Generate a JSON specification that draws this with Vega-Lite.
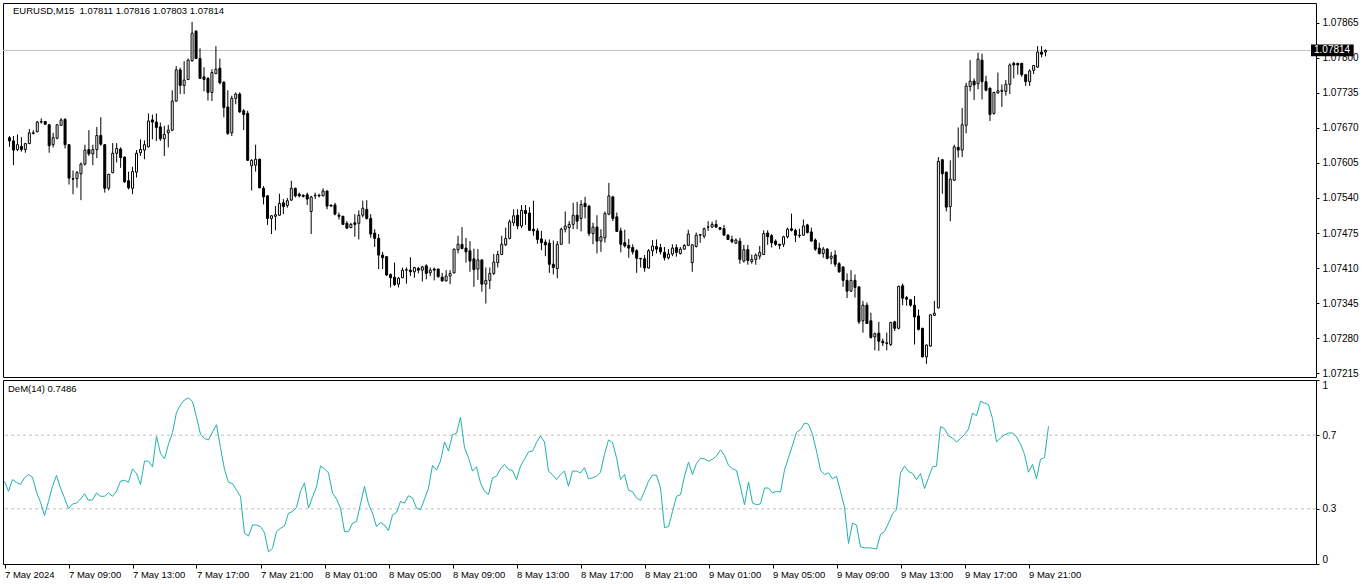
{
"$schema":"https://vega.github.io/schema/vega-lite/v6.json",
"background":"white",
"padding":{"left":2,"top":2,"right":0,"bottom":0},
"spacing":0,
"config":{"font":"Liberation Sans","view":{"stroke":"black","strokeWidth":1},"axis":{"labelFont":"Liberation Sans","labelFontSize":9.5,"labelColor":"black","tickColor":"black","domain":false,"grid":false,"title":null,"labelOverlap":false}},
"resolve":{"scale":{"y":"independent"}},
"datasets":{"bars":[
{"t":"2024-05-07 05:00","o":1.07652,"h":1.07655,"l":1.07635,"c":1.07646,"d":0.450},
{"t":"2024-05-07 05:15","o":1.07646,"h":1.07655,"l":1.07601,"c":1.07629,"d":0.395},
{"t":"2024-05-07 05:30","o":1.07630,"h":1.07658,"l":1.07627,"c":1.07639,"d":0.459},
{"t":"2024-05-07 05:45","o":1.07636,"h":1.07653,"l":1.07626,"c":1.07630,"d":0.444},
{"t":"2024-05-07 06:00","o":1.07630,"h":1.07642,"l":1.07624,"c":1.07641,"d":0.432},
{"t":"2024-05-07 06:15","o":1.07641,"h":1.07668,"l":1.07640,"c":1.07661,"d":0.468},
{"t":"2024-05-07 06:30","o":1.07661,"h":1.07666,"l":1.07658,"c":1.07660,"d":0.486},
{"t":"2024-05-07 06:45","o":1.07663,"h":1.07683,"l":1.07662,"c":1.07681,"d":0.472},
{"t":"2024-05-07 07:00","o":1.07681,"h":1.07688,"l":1.07678,"c":1.07682,"d":0.390},
{"t":"2024-05-07 07:15","o":1.07682,"h":1.07682,"l":1.07676,"c":1.07677,"d":0.335},
{"t":"2024-05-07 07:30","o":1.07676,"h":1.07677,"l":1.07624,"c":1.07637,"d":0.264},
{"t":"2024-05-07 07:45","o":1.07639,"h":1.07661,"l":1.07634,"c":1.07652,"d":0.340},
{"t":"2024-05-07 08:00","o":1.07651,"h":1.07677,"l":1.07649,"c":1.07676,"d":0.422},
{"t":"2024-05-07 08:15","o":1.07675,"h":1.07688,"l":1.07674,"c":1.07685,"d":0.481},
{"t":"2024-05-07 08:30","o":1.07686,"h":1.07688,"l":1.07632,"c":1.07639,"d":0.413},
{"t":"2024-05-07 08:45","o":1.07639,"h":1.07640,"l":1.07565,"c":1.07577,"d":0.359},
{"t":"2024-05-07 09:00","o":1.07576,"h":1.07591,"l":1.07547,"c":1.07575,"d":0.300},
{"t":"2024-05-07 09:15","o":1.07576,"h":1.07590,"l":1.07559,"c":1.07587,"d":0.326},
{"t":"2024-05-07 09:30","o":1.07585,"h":1.07606,"l":1.07536,"c":1.07603,"d":0.331},
{"t":"2024-05-07 09:45","o":1.07603,"h":1.07639,"l":1.07600,"c":1.07629,"d":0.353},
{"t":"2024-05-07 10:00","o":1.07630,"h":1.07666,"l":1.07618,"c":1.07622,"d":0.382},
{"t":"2024-05-07 10:15","o":1.07622,"h":1.07639,"l":1.07601,"c":1.07630,"d":0.346},
{"t":"2024-05-07 10:30","o":1.07630,"h":1.07672,"l":1.07614,"c":1.07656,"d":0.349},
{"t":"2024-05-07 10:45","o":1.07656,"h":1.07690,"l":1.07637,"c":1.07640,"d":0.386},
{"t":"2024-05-07 11:00","o":1.07639,"h":1.07640,"l":1.07550,"c":1.07558,"d":0.368},
{"t":"2024-05-07 11:15","o":1.07558,"h":1.07585,"l":1.07554,"c":1.07584,"d":0.368},
{"t":"2024-05-07 11:30","o":1.07587,"h":1.07642,"l":1.07586,"c":1.07623,"d":0.386},
{"t":"2024-05-07 11:45","o":1.07623,"h":1.07642,"l":1.07606,"c":1.07632,"d":0.368},
{"t":"2024-05-07 12:00","o":1.07631,"h":1.07634,"l":1.07596,"c":1.07615,"d":0.395},
{"t":"2024-05-07 12:15","o":1.07616,"h":1.07617,"l":1.07568,"c":1.07570,"d":0.450},
{"t":"2024-05-07 12:30","o":1.07572,"h":1.07589,"l":1.07556,"c":1.07559,"d":0.455},
{"t":"2024-05-07 12:45","o":1.07558,"h":1.07598,"l":1.07547,"c":1.07589,"d":0.444},
{"t":"2024-05-07 13:00","o":1.07588,"h":1.07629,"l":1.07578,"c":1.07623,"d":0.517},
{"t":"2024-05-07 13:15","o":1.07624,"h":1.07649,"l":1.07618,"c":1.07630,"d":0.492},
{"t":"2024-05-07 13:30","o":1.07629,"h":1.07647,"l":1.07612,"c":1.07639,"d":0.432},
{"t":"2024-05-07 13:45","o":1.07635,"h":1.07697,"l":1.07634,"c":1.07683,"d":0.559},
{"t":"2024-05-07 14:00","o":1.07685,"h":1.07695,"l":1.07649,"c":1.07681,"d":0.559},
{"t":"2024-05-07 14:15","o":1.07681,"h":1.07697,"l":1.07646,"c":1.07671,"d":0.528},
{"t":"2024-05-07 14:30","o":1.07672,"h":1.07680,"l":1.07646,"c":1.07650,"d":0.693},
{"t":"2024-05-07 14:45","o":1.07650,"h":1.07674,"l":1.07618,"c":1.07658,"d":0.601},
{"t":"2024-05-07 15:00","o":1.07661,"h":1.07676,"l":1.07634,"c":1.07666,"d":0.572},
{"t":"2024-05-07 15:15","o":1.07666,"h":1.07740,"l":1.07664,"c":1.07720,"d":0.651},
{"t":"2024-05-07 15:30","o":1.07720,"h":1.07785,"l":1.07719,"c":1.07778,"d":0.715},
{"t":"2024-05-07 15:45","o":1.07778,"h":1.07782,"l":1.07733,"c":1.07749,"d":0.824},
{"t":"2024-05-07 16:00","o":1.07749,"h":1.07794,"l":1.07733,"c":1.07759,"d":0.864},
{"t":"2024-05-07 16:15","o":1.07760,"h":1.07799,"l":1.07759,"c":1.07796,"d":0.892},
{"t":"2024-05-07 16:30","o":1.07795,"h":1.07867,"l":1.07793,"c":1.07846,"d":0.903},
{"t":"2024-05-07 16:45","o":1.07850,"h":1.07851,"l":1.07798,"c":1.07799,"d":0.883},
{"t":"2024-05-07 17:00","o":1.07799,"h":1.07818,"l":1.07761,"c":1.07762,"d":0.797},
{"t":"2024-05-07 17:15","o":1.07765,"h":1.07783,"l":1.07738,"c":1.07760,"d":0.705},
{"t":"2024-05-07 17:30","o":1.07762,"h":1.07765,"l":1.07721,"c":1.07736,"d":0.682},
{"t":"2024-05-07 17:45","o":1.07736,"h":1.07779,"l":1.07720,"c":1.07773,"d":0.674},
{"t":"2024-05-07 18:00","o":1.07771,"h":1.07822,"l":1.07770,"c":1.07779,"d":0.718},
{"t":"2024-05-07 18:15","o":1.07781,"h":1.07799,"l":1.07751,"c":1.07754,"d":0.757},
{"t":"2024-05-07 18:30","o":1.07755,"h":1.07757,"l":1.07690,"c":1.07708,"d":0.632},
{"t":"2024-05-07 18:45","o":1.07709,"h":1.07740,"l":1.07657,"c":1.07660,"d":0.514},
{"t":"2024-05-07 19:00","o":1.07661,"h":1.07730,"l":1.07655,"c":1.07725,"d":0.444},
{"t":"2024-05-07 19:15","o":1.07725,"h":1.07736,"l":1.07714,"c":1.07733,"d":0.437},
{"t":"2024-05-07 19:30","o":1.07733,"h":1.07736,"l":1.07698,"c":1.07700,"d":0.401},
{"t":"2024-05-07 19:45","o":1.07702,"h":1.07705,"l":1.07666,"c":1.07695,"d":0.368},
{"t":"2024-05-07 20:00","o":1.07697,"h":1.07702,"l":1.07609,"c":1.07610,"d":0.167},
{"t":"2024-05-07 20:15","o":1.07600,"h":1.07612,"l":1.07554,"c":1.07610,"d":0.152},
{"t":"2024-05-07 20:30","o":1.07601,"h":1.07639,"l":1.07589,"c":1.07612,"d":0.212},
{"t":"2024-05-07 20:45","o":1.07612,"h":1.07613,"l":1.07558,"c":1.07559,"d":0.212},
{"t":"2024-05-07 21:00","o":1.07558,"h":1.07562,"l":1.07528,"c":1.07542,"d":0.203},
{"t":"2024-05-07 21:15","o":1.07544,"h":1.07545,"l":1.07490,"c":1.07502,"d":0.170},
{"t":"2024-05-07 21:30","o":1.07502,"h":1.07508,"l":1.07473,"c":1.07507,"d":0.066},
{"t":"2024-05-07 21:45","o":1.07506,"h":1.07525,"l":1.07480,"c":1.07509,"d":0.085},
{"t":"2024-05-07 22:00","o":1.07508,"h":1.07548,"l":1.07507,"c":1.07530,"d":0.176},
{"t":"2024-05-07 22:15","o":1.07531,"h":1.07538,"l":1.07510,"c":1.07524,"d":0.194},
{"t":"2024-05-07 22:30","o":1.07526,"h":1.07540,"l":1.07522,"c":1.07535,"d":0.207},
{"t":"2024-05-07 22:45","o":1.07536,"h":1.07572,"l":1.07535,"c":1.07558,"d":0.276},
{"t":"2024-05-07 23:00","o":1.07558,"h":1.07559,"l":1.07541,"c":1.07544,"d":0.285},
{"t":"2024-05-07 23:15","o":1.07547,"h":1.07550,"l":1.07541,"c":1.07544,"d":0.307},
{"t":"2024-05-07 23:30","o":1.07545,"h":1.07547,"l":1.07541,"c":1.07543,"d":0.395},
{"t":"2024-05-07 23:45","o":1.07546,"h":1.07550,"l":1.07527,"c":1.07538,"d":0.441},
{"t":"2024-05-08 00:00","o":1.07515,"h":1.07544,"l":1.07473,"c":1.07542,"d":0.304},
{"t":"2024-05-08 00:15","o":1.07544,"h":1.07550,"l":1.07538,"c":1.07545,"d":0.364},
{"t":"2024-05-08 00:30","o":1.07545,"h":1.07548,"l":1.07541,"c":1.07544,"d":0.419},
{"t":"2024-05-08 00:45","o":1.07544,"h":1.07558,"l":1.07543,"c":1.07553,"d":0.532},
{"t":"2024-05-08 01:00","o":1.07553,"h":1.07554,"l":1.07519,"c":1.07525,"d":0.517},
{"t":"2024-05-08 01:15","o":1.07527,"h":1.07527,"l":1.07524,"c":1.07525,"d":0.495},
{"t":"2024-05-08 01:30","o":1.07527,"h":1.07531,"l":1.07508,"c":1.07510,"d":0.386},
{"t":"2024-05-08 01:45","o":1.07508,"h":1.07513,"l":1.07500,"c":1.07506,"d":0.353},
{"t":"2024-05-08 02:00","o":1.07506,"h":1.07507,"l":1.07490,"c":1.07491,"d":0.304},
{"t":"2024-05-08 02:15","o":1.07493,"h":1.07497,"l":1.07483,"c":1.07484,"d":0.176},
{"t":"2024-05-08 02:30","o":1.07485,"h":1.07494,"l":1.07484,"c":1.07491,"d":0.176},
{"t":"2024-05-08 02:45","o":1.07494,"h":1.07510,"l":1.07468,"c":1.07491,"d":0.222},
{"t":"2024-05-08 03:00","o":1.07493,"h":1.07517,"l":1.07463,"c":1.07508,"d":0.231},
{"t":"2024-05-08 03:15","o":1.07508,"h":1.07535,"l":1.07504,"c":1.07521,"d":0.326},
{"t":"2024-05-08 03:30","o":1.07519,"h":1.07536,"l":1.07500,"c":1.07502,"d":0.422},
{"t":"2024-05-08 03:45","o":1.07502,"h":1.07510,"l":1.07466,"c":1.07473,"d":0.327},
{"t":"2024-05-08 04:00","o":1.07475,"h":1.07482,"l":1.07449,"c":1.07465,"d":0.276},
{"t":"2024-05-08 04:15","o":1.07465,"h":1.07473,"l":1.07408,"c":1.07434,"d":0.203},
{"t":"2024-05-08 04:30","o":1.07434,"h":1.07440,"l":1.07408,"c":1.07429,"d":0.225},
{"t":"2024-05-08 04:45","o":1.07431,"h":1.07432,"l":1.07395,"c":1.07397,"d":0.212},
{"t":"2024-05-08 05:00","o":1.07398,"h":1.07400,"l":1.07374,"c":1.07392,"d":0.181},
{"t":"2024-05-08 05:15","o":1.07393,"h":1.07420,"l":1.07377,"c":1.07379,"d":0.267},
{"t":"2024-05-08 05:30","o":1.07380,"h":1.07393,"l":1.07374,"c":1.07391,"d":0.280},
{"t":"2024-05-08 05:45","o":1.07392,"h":1.07411,"l":1.07391,"c":1.07406,"d":0.340},
{"t":"2024-05-08 06:00","o":1.07406,"h":1.07411,"l":1.07381,"c":1.07407,"d":0.331},
{"t":"2024-05-08 06:15","o":1.07406,"h":1.07430,"l":1.07395,"c":1.07403,"d":0.371},
{"t":"2024-05-08 06:30","o":1.07403,"h":1.07412,"l":1.07392,"c":1.07411,"d":0.359},
{"t":"2024-05-08 06:45","o":1.07409,"h":1.07412,"l":1.07400,"c":1.07406,"d":0.304},
{"t":"2024-05-08 07:00","o":1.07406,"h":1.07414,"l":1.07385,"c":1.07412,"d":0.295},
{"t":"2024-05-08 07:15","o":1.07414,"h":1.07417,"l":1.07389,"c":1.07400,"d":0.353},
{"t":"2024-05-08 07:30","o":1.07401,"h":1.07411,"l":1.07395,"c":1.07406,"d":0.413},
{"t":"2024-05-08 07:45","o":1.07408,"h":1.07411,"l":1.07387,"c":1.07406,"d":0.536},
{"t":"2024-05-08 08:00","o":1.07408,"h":1.07409,"l":1.07392,"c":1.07394,"d":0.510},
{"t":"2024-05-08 08:15","o":1.07393,"h":1.07401,"l":1.07385,"c":1.07386,"d":0.559},
{"t":"2024-05-08 08:30","o":1.07386,"h":1.07406,"l":1.07385,"c":1.07395,"d":0.663},
{"t":"2024-05-08 08:45","o":1.07395,"h":1.07406,"l":1.07380,"c":1.07400,"d":0.614},
{"t":"2024-05-08 09:00","o":1.07401,"h":1.07446,"l":1.07400,"c":1.07445,"d":0.702},
{"t":"2024-05-08 09:15","o":1.07444,"h":1.07470,"l":1.07437,"c":1.07454,"d":0.711},
{"t":"2024-05-08 09:30","o":1.07454,"h":1.07486,"l":1.07445,"c":1.07446,"d":0.797},
{"t":"2024-05-08 09:45","o":1.07447,"h":1.07466,"l":1.07420,"c":1.07440,"d":0.632},
{"t":"2024-05-08 10:00","o":1.07442,"h":1.07460,"l":1.07403,"c":1.07423,"d":0.578},
{"t":"2024-05-08 10:15","o":1.07427,"h":1.07446,"l":1.07375,"c":1.07407,"d":0.505},
{"t":"2024-05-08 10:30","o":1.07408,"h":1.07445,"l":1.07388,"c":1.07425,"d":0.528},
{"t":"2024-05-08 10:45","o":1.07425,"h":1.07426,"l":1.07366,"c":1.07380,"d":0.441},
{"t":"2024-05-08 11:00","o":1.07380,"h":1.07411,"l":1.07344,"c":1.07387,"d":0.395},
{"t":"2024-05-08 11:15","o":1.07387,"h":1.07411,"l":1.07371,"c":1.07400,"d":0.377},
{"t":"2024-05-08 11:30","o":1.07400,"h":1.07436,"l":1.07397,"c":1.07421,"d":0.468},
{"t":"2024-05-08 11:45","o":1.07420,"h":1.07442,"l":1.07411,"c":1.07435,"d":0.477},
{"t":"2024-05-08 12:00","o":1.07435,"h":1.07470,"l":1.07434,"c":1.07454,"d":0.517},
{"t":"2024-05-08 12:15","o":1.07453,"h":1.07485,"l":1.07451,"c":1.07465,"d":0.541},
{"t":"2024-05-08 12:30","o":1.07465,"h":1.07500,"l":1.07463,"c":1.07496,"d":0.514},
{"t":"2024-05-08 12:45","o":1.07494,"h":1.07519,"l":1.07488,"c":1.07507,"d":0.508},
{"t":"2024-05-08 13:00","o":1.07508,"h":1.07519,"l":1.07482,"c":1.07488,"d":0.459},
{"t":"2024-05-08 13:15","o":1.07488,"h":1.07527,"l":1.07484,"c":1.07517,"d":0.532},
{"t":"2024-05-08 13:30","o":1.07517,"h":1.07527,"l":1.07490,"c":1.07511,"d":0.569},
{"t":"2024-05-08 13:45","o":1.07512,"h":1.07523,"l":1.07479,"c":1.07480,"d":0.609},
{"t":"2024-05-08 14:00","o":1.07482,"h":1.07535,"l":1.07470,"c":1.07479,"d":0.614},
{"t":"2024-05-08 14:15","o":1.07479,"h":1.07484,"l":1.07455,"c":1.07463,"d":0.660},
{"t":"2024-05-08 14:30","o":1.07464,"h":1.07479,"l":1.07443,"c":1.07457,"d":0.696},
{"t":"2024-05-08 14:45","o":1.07458,"h":1.07463,"l":1.07432,"c":1.07453,"d":0.663},
{"t":"2024-05-08 15:00","o":1.07456,"h":1.07463,"l":1.07401,"c":1.07417,"d":0.505},
{"t":"2024-05-08 15:15","o":1.07417,"h":1.07461,"l":1.07398,"c":1.07411,"d":0.486},
{"t":"2024-05-08 15:30","o":1.07409,"h":1.07460,"l":1.07391,"c":1.07454,"d":0.459},
{"t":"2024-05-08 15:45","o":1.07454,"h":1.07485,"l":1.07453,"c":1.07482,"d":0.486},
{"t":"2024-05-08 16:00","o":1.07482,"h":1.07515,"l":1.07476,"c":1.07488,"d":0.505},
{"t":"2024-05-08 16:15","o":1.07485,"h":1.07497,"l":1.07455,"c":1.07491,"d":0.422},
{"t":"2024-05-08 16:30","o":1.07491,"h":1.07531,"l":1.07482,"c":1.07508,"d":0.505},
{"t":"2024-05-08 16:45","o":1.07508,"h":1.07533,"l":1.07482,"c":1.07497,"d":0.505},
{"t":"2024-05-08 17:00","o":1.07502,"h":1.07536,"l":1.07478,"c":1.07528,"d":0.495},
{"t":"2024-05-08 17:15","o":1.07530,"h":1.07542,"l":1.07502,"c":1.07524,"d":0.523},
{"t":"2024-05-08 17:30","o":1.07525,"h":1.07527,"l":1.07469,"c":1.07474,"d":0.463},
{"t":"2024-05-08 17:45","o":1.07474,"h":1.07494,"l":1.07454,"c":1.07486,"d":0.468},
{"t":"2024-05-08 18:00","o":1.07486,"h":1.07508,"l":1.07437,"c":1.07460,"d":0.477},
{"t":"2024-05-08 18:15","o":1.07460,"h":1.07482,"l":1.07440,"c":1.07468,"d":0.499},
{"t":"2024-05-08 18:30","o":1.07466,"h":1.07515,"l":1.07457,"c":1.07511,"d":0.596},
{"t":"2024-05-08 18:45","o":1.07510,"h":1.07568,"l":1.07508,"c":1.07544,"d":0.674},
{"t":"2024-05-08 19:00","o":1.07542,"h":1.07544,"l":1.07497,"c":1.07502,"d":0.660},
{"t":"2024-05-08 19:15","o":1.07505,"h":1.07513,"l":1.07477,"c":1.07478,"d":0.578},
{"t":"2024-05-08 19:30","o":1.07479,"h":1.07485,"l":1.07439,"c":1.07454,"d":0.459},
{"t":"2024-05-08 19:45","o":1.07457,"h":1.07481,"l":1.07448,"c":1.07451,"d":0.486},
{"t":"2024-05-08 20:00","o":1.07452,"h":1.07464,"l":1.07429,"c":1.07447,"d":0.401},
{"t":"2024-05-08 20:15","o":1.07448,"h":1.07454,"l":1.07435,"c":1.07440,"d":0.393},
{"t":"2024-05-08 20:30","o":1.07442,"h":1.07445,"l":1.07401,"c":1.07428,"d":0.359},
{"t":"2024-05-08 20:45","o":1.07428,"h":1.07428,"l":1.07411,"c":1.07427,"d":0.346},
{"t":"2024-05-08 21:00","o":1.07427,"h":1.07434,"l":1.07403,"c":1.07410,"d":0.395},
{"t":"2024-05-08 21:15","o":1.07410,"h":1.07445,"l":1.07409,"c":1.07442,"d":0.450},
{"t":"2024-05-08 21:30","o":1.07442,"h":1.07462,"l":1.07432,"c":1.07451,"d":0.483},
{"t":"2024-05-08 21:45","o":1.07450,"h":1.07463,"l":1.07437,"c":1.07445,"d":0.483},
{"t":"2024-05-08 22:00","o":1.07448,"h":1.07455,"l":1.07435,"c":1.07440,"d":0.413},
{"t":"2024-05-08 22:15","o":1.07439,"h":1.07449,"l":1.07424,"c":1.07429,"d":0.198},
{"t":"2024-05-08 22:30","o":1.07429,"h":1.07445,"l":1.07426,"c":1.07436,"d":0.203},
{"t":"2024-05-08 22:45","o":1.07436,"h":1.07454,"l":1.07432,"c":1.07447,"d":0.285},
{"t":"2024-05-08 23:00","o":1.07448,"h":1.07454,"l":1.07431,"c":1.07439,"d":0.368},
{"t":"2024-05-08 23:15","o":1.07437,"h":1.07449,"l":1.07435,"c":1.07445,"d":0.377},
{"t":"2024-05-08 23:30","o":1.07445,"h":1.07454,"l":1.07444,"c":1.07452,"d":0.477},
{"t":"2024-05-08 23:45","o":1.07452,"h":1.07481,"l":1.07451,"c":1.07473,"d":0.554},
{"t":"2024-05-09 00:00","o":1.07420,"h":1.07454,"l":1.07403,"c":1.07453,"d":0.486},
{"t":"2024-05-09 00:15","o":1.07450,"h":1.07476,"l":1.07448,"c":1.07471,"d":0.547},
{"t":"2024-05-09 00:30","o":1.07471,"h":1.07472,"l":1.07457,"c":1.07472,"d":0.574},
{"t":"2024-05-09 00:45","o":1.07469,"h":1.07485,"l":1.07465,"c":1.07483,"d":0.572},
{"t":"2024-05-09 01:00","o":1.07486,"h":1.07497,"l":1.07479,"c":1.07486,"d":0.559},
{"t":"2024-05-09 01:15","o":1.07486,"h":1.07496,"l":1.07485,"c":1.07491,"d":0.569},
{"t":"2024-05-09 01:30","o":1.07491,"h":1.07499,"l":1.07485,"c":1.07486,"d":0.587},
{"t":"2024-05-09 01:45","o":1.07485,"h":1.07486,"l":1.07480,"c":1.07482,"d":0.620},
{"t":"2024-05-09 02:00","o":1.07483,"h":1.07490,"l":1.07470,"c":1.07471,"d":0.590},
{"t":"2024-05-09 02:15","o":1.07471,"h":1.07473,"l":1.07462,"c":1.07463,"d":0.536},
{"t":"2024-05-09 02:30","o":1.07463,"h":1.07470,"l":1.07456,"c":1.07459,"d":0.517},
{"t":"2024-05-09 02:45","o":1.07456,"h":1.07465,"l":1.07455,"c":1.07462,"d":0.508},
{"t":"2024-05-09 03:00","o":1.07460,"h":1.07466,"l":1.07418,"c":1.07426,"d":0.419},
{"t":"2024-05-09 03:15","o":1.07423,"h":1.07453,"l":1.07420,"c":1.07444,"d":0.322},
{"t":"2024-05-09 03:30","o":1.07444,"h":1.07453,"l":1.07416,"c":1.07424,"d":0.446},
{"t":"2024-05-09 03:45","o":1.07422,"h":1.07435,"l":1.07418,"c":1.07426,"d":0.331},
{"t":"2024-05-09 04:00","o":1.07426,"h":1.07437,"l":1.07416,"c":1.07434,"d":0.322},
{"t":"2024-05-09 04:15","o":1.07432,"h":1.07451,"l":1.07426,"c":1.07439,"d":0.327},
{"t":"2024-05-09 04:30","o":1.07435,"h":1.07480,"l":1.07434,"c":1.07474,"d":0.413},
{"t":"2024-05-09 04:45","o":1.07475,"h":1.07480,"l":1.07453,"c":1.07468,"d":0.413},
{"t":"2024-05-09 05:00","o":1.07470,"h":1.07473,"l":1.07448,"c":1.07457,"d":0.386},
{"t":"2024-05-09 05:15","o":1.07460,"h":1.07463,"l":1.07451,"c":1.07454,"d":0.395},
{"t":"2024-05-09 05:30","o":1.07454,"h":1.07455,"l":1.07445,"c":1.07452,"d":0.391},
{"t":"2024-05-09 05:45","o":1.07454,"h":1.07470,"l":1.07449,"c":1.07468,"d":0.510},
{"t":"2024-05-09 06:00","o":1.07468,"h":1.07485,"l":1.07465,"c":1.07482,"d":0.578},
{"t":"2024-05-09 06:15","o":1.07483,"h":1.07511,"l":1.07478,"c":1.07480,"d":0.645},
{"t":"2024-05-09 06:30","o":1.07480,"h":1.07483,"l":1.07458,"c":1.07471,"d":0.715},
{"t":"2024-05-09 06:45","o":1.07471,"h":1.07483,"l":1.07466,"c":1.07470,"d":0.731},
{"t":"2024-05-09 07:00","o":1.07471,"h":1.07500,"l":1.07470,"c":1.07488,"d":0.766},
{"t":"2024-05-09 07:15","o":1.07490,"h":1.07492,"l":1.07474,"c":1.07476,"d":0.760},
{"t":"2024-05-09 07:30","o":1.07477,"h":1.07485,"l":1.07459,"c":1.07460,"d":0.705},
{"t":"2024-05-09 07:45","o":1.07462,"h":1.07465,"l":1.07442,"c":1.07445,"d":0.614},
{"t":"2024-05-09 08:00","o":1.07447,"h":1.07457,"l":1.07435,"c":1.07437,"d":0.510},
{"t":"2024-05-09 08:15","o":1.07437,"h":1.07449,"l":1.07429,"c":1.07445,"d":0.486},
{"t":"2024-05-09 08:30","o":1.07445,"h":1.07447,"l":1.07426,"c":1.07428,"d":0.495},
{"t":"2024-05-09 08:45","o":1.07428,"h":1.07440,"l":1.07417,"c":1.07432,"d":0.463},
{"t":"2024-05-09 09:00","o":1.07434,"h":1.07443,"l":1.07412,"c":1.07417,"d":0.477},
{"t":"2024-05-09 09:15","o":1.07418,"h":1.07421,"l":1.07401,"c":1.07403,"d":0.395},
{"t":"2024-05-09 09:30","o":1.07412,"h":1.07413,"l":1.07375,"c":1.07387,"d":0.309},
{"t":"2024-05-09 09:45","o":1.07387,"h":1.07400,"l":1.07354,"c":1.07367,"d":0.112},
{"t":"2024-05-09 10:00","o":1.07367,"h":1.07406,"l":1.07366,"c":1.07387,"d":0.222},
{"t":"2024-05-09 10:15","o":1.07387,"h":1.07398,"l":1.07355,"c":1.07374,"d":0.212},
{"t":"2024-05-09 10:30","o":1.07375,"h":1.07376,"l":1.07306,"c":1.07310,"d":0.094},
{"t":"2024-05-09 10:45","o":1.07312,"h":1.07349,"l":1.07290,"c":1.07341,"d":0.088},
{"t":"2024-05-09 11:00","o":1.07341,"h":1.07346,"l":1.07306,"c":1.07307,"d":0.088},
{"t":"2024-05-09 11:15","o":1.07312,"h":1.07327,"l":1.07279,"c":1.07281,"d":0.086},
{"t":"2024-05-09 11:30","o":1.07282,"h":1.07290,"l":1.07257,"c":1.07288,"d":0.081},
{"t":"2024-05-09 11:45","o":1.07289,"h":1.07310,"l":1.07256,"c":1.07274,"d":0.161},
{"t":"2024-05-09 12:00","o":1.07274,"h":1.07279,"l":1.07265,"c":1.07271,"d":0.176},
{"t":"2024-05-09 12:15","o":1.07271,"h":1.07290,"l":1.07257,"c":1.07270,"d":0.222},
{"t":"2024-05-09 12:30","o":1.07268,"h":1.07310,"l":1.07265,"c":1.07309,"d":0.273},
{"t":"2024-05-09 12:45","o":1.07310,"h":1.07312,"l":1.07293,"c":1.07298,"d":0.295},
{"t":"2024-05-09 13:00","o":1.07298,"h":1.07377,"l":1.07296,"c":1.07376,"d":0.495},
{"t":"2024-05-09 13:15","o":1.07377,"h":1.07381,"l":1.07341,"c":1.07354,"d":0.532},
{"t":"2024-05-09 13:30","o":1.07355,"h":1.07358,"l":1.07340,"c":1.07352,"d":0.503},
{"t":"2024-05-09 13:45","o":1.07351,"h":1.07352,"l":1.07338,"c":1.07341,"d":0.492},
{"t":"2024-05-09 14:00","o":1.07341,"h":1.07358,"l":1.07268,"c":1.07319,"d":0.459},
{"t":"2024-05-09 14:15","o":1.07321,"h":1.07333,"l":1.07294,"c":1.07296,"d":0.492},
{"t":"2024-05-09 14:30","o":1.07298,"h":1.07299,"l":1.07244,"c":1.07245,"d":0.410},
{"t":"2024-05-09 14:45","o":1.07245,"h":1.07268,"l":1.07232,"c":1.07267,"d":0.468},
{"t":"2024-05-09 15:00","o":1.07265,"h":1.07324,"l":1.07264,"c":1.07323,"d":0.528},
{"t":"2024-05-09 15:15","o":1.07322,"h":1.07349,"l":1.07321,"c":1.07326,"d":0.532},
{"t":"2024-05-09 15:30","o":1.07336,"h":1.07616,"l":1.07335,"c":1.07608,"d":0.747},
{"t":"2024-05-09 15:45","o":1.07611,"h":1.07612,"l":1.07548,"c":1.07585,"d":0.736},
{"t":"2024-05-09 16:00","o":1.07588,"h":1.07589,"l":1.07515,"c":1.07523,"d":0.696},
{"t":"2024-05-09 16:15","o":1.07524,"h":1.07610,"l":1.07497,"c":1.07575,"d":0.685},
{"t":"2024-05-09 16:30","o":1.07573,"h":1.07639,"l":1.07572,"c":1.07635,"d":0.663},
{"t":"2024-05-09 16:45","o":1.07634,"h":1.07671,"l":1.07615,"c":1.07629,"d":0.682},
{"t":"2024-05-09 17:00","o":1.07629,"h":1.07707,"l":1.07616,"c":1.07676,"d":0.704},
{"t":"2024-05-09 17:15","o":1.07675,"h":1.07754,"l":1.07660,"c":1.07748,"d":0.733},
{"t":"2024-05-09 17:30","o":1.07747,"h":1.07796,"l":1.07738,"c":1.07757,"d":0.820},
{"t":"2024-05-09 17:45","o":1.07757,"h":1.07762,"l":1.07722,"c":1.07750,"d":0.806},
{"t":"2024-05-09 18:00","o":1.07752,"h":1.07810,"l":1.07742,"c":1.07798,"d":0.884},
{"t":"2024-05-09 18:15","o":1.07796,"h":1.07808,"l":1.07723,"c":1.07756,"d":0.875},
{"t":"2024-05-09 18:30","o":1.07756,"h":1.07767,"l":1.07738,"c":1.07740,"d":0.866},
{"t":"2024-05-09 18:45","o":1.07744,"h":1.07745,"l":1.07683,"c":1.07695,"d":0.791},
{"t":"2024-05-09 19:00","o":1.07697,"h":1.07737,"l":1.07695,"c":1.07736,"d":0.663},
{"t":"2024-05-09 19:15","o":1.07735,"h":1.07773,"l":1.07734,"c":1.07739,"d":0.685},
{"t":"2024-05-09 19:30","o":1.07738,"h":1.07751,"l":1.07709,"c":1.07740,"d":0.702},
{"t":"2024-05-09 19:45","o":1.07738,"h":1.07759,"l":1.07730,"c":1.07751,"d":0.711},
{"t":"2024-05-09 20:00","o":1.07751,"h":1.07790,"l":1.07733,"c":1.07787,"d":0.713},
{"t":"2024-05-09 20:15","o":1.07790,"h":1.07793,"l":1.07762,"c":1.07787,"d":0.691},
{"t":"2024-05-09 20:30","o":1.07790,"h":1.07791,"l":1.07769,"c":1.07787,"d":0.651},
{"t":"2024-05-09 20:45","o":1.07790,"h":1.07791,"l":1.07765,"c":1.07769,"d":0.596},
{"t":"2024-05-09 21:00","o":1.07769,"h":1.07770,"l":1.07748,"c":1.07756,"d":0.499},
{"t":"2024-05-09 21:15","o":1.07756,"h":1.07779,"l":1.07748,"c":1.07776,"d":0.541},
{"t":"2024-05-09 21:30","o":1.07777,"h":1.07787,"l":1.07770,"c":1.07786,"d":0.463},
{"t":"2024-05-09 21:45","o":1.07783,"h":1.07822,"l":1.07782,"c":1.07811,"d":0.569},
{"t":"2024-05-09 22:00","o":1.07811,"h":1.07822,"l":1.07801,"c":1.07807,"d":0.578},
{"t":"2024-05-09 22:15","o":1.07811,"h":1.07816,"l":1.07803,"c":1.07814,"d":0.7486}
]},
"vconcat":[
{
"width":1313,"height":374,
"layer":[
{"data":{"values":[{"p":1.07814}]},
 "mark":{"type":"rule","color":"#c0c0c0","strokeWidth":1},
 "encoding":{"y":{"field":"p","type":"quantitative","scale":{"domain":[1.072076,1.079021],"zero":false,"nice":false},
   "axis":{"orient":"right","values":[1.07215,1.0728,1.07345,1.0741,1.07475,1.0754,1.07605,1.0767,1.07735,1.078,1.07865],"tickCount":30,"format":".5f","tickSize":3,"labelPadding":3,"labelOverlap":false,"labelFontSize":10}}}},
{"data":{"name":"bars"},
 "mark":{"type":"rule","color":"black","strokeWidth":1},
 "encoding":{
   "x":{"field":"t","type":"temporal","axis":null,"scale":{"domain":[{"year":2024,"month":5,"date":7,"hours":4,"minutes":54,"seconds":22,"milliseconds":500},{"year":2024,"month":5,"date":10,"hours":14,"minutes":58,"seconds":7,"milliseconds":500}]}},
   "y":{"field":"l","type":"quantitative"},
   "y2":{"field":"h"}}},
{"data":{"name":"bars"},
 "mark":{"type":"bar","width":2,"stroke":"black","strokeWidth":1},
 "encoding":{
   "x":{"field":"t","type":"temporal"},
   "y":{"field":"o","type":"quantitative"},
   "y2":{"field":"c"},
   "fill":{"condition":{"test":"datum.c >= datum.o","value":"white"},"value":"black"}}},
{"data":{"values":[{"s":"EURUSD,M15\u00a0 1.07811 1.07816 1.07803 1.07814"}]},
 "mark":{"type":"text","color":"black","align":"left","baseline":"top","dx":5,"dy":3,"fontSize":9.5,"font":"Liberation Sans"},
 "encoding":{
   "x":{"datum":{"year":2024,"month":5,"date":7,"hours":4,"minutes":54,"seconds":22,"milliseconds":500},"type":"temporal"},
   "y":{"datum":1.079021,"type":"quantitative"},
   "text":{"field":"s"}}},
{"data":{"values":[{"p":1.07814}]},
 "mark":{"type":"rect","color":"black","clip":false},
 "encoding":{
   "x":{"datum":{"year":2024,"month":5,"date":10,"hours":14,"minutes":58,"seconds":7,"milliseconds":500},"type":"temporal"},
   "x2":{"datum":{"year":2024,"month":5,"date":10,"hours":17,"minutes":39,"seconds":22,"milliseconds":500}},
   "y":{"datum":1.07825,"type":"quantitative"},
   "y2":{"datum":1.07803}}},
{"data":{"values":[{"p":1.07814}]},
 "mark":{"type":"text","color":"white","align":"left","baseline":"middle","dx":3,"fontSize":10,"font":"Liberation Sans","clip":false},
 "encoding":{
   "x":{"datum":{"year":2024,"month":5,"date":10,"hours":14,"minutes":58,"seconds":7,"milliseconds":500},"type":"temporal"},
   "y":{"field":"p","type":"quantitative"},
   "text":{"field":"p","type":"quantitative","format":".5f"}}}
]
},
{
"width":1313,"height":184,
"layer":[
{"data":{"values":[{"lv":0.3},{"lv":0.7}]},
 "mark":{"type":"rule","color":"#c0c0c0","strokeWidth":1,"strokeDash":[3,3]},
 "encoding":{"y":{"field":"lv","type":"quantitative","scale":{"domain":[0,1],"nice":false,"zero":false},
   "axis":{"orient":"right","values":[0,0.3,0.7,1],"tickCount":10,"format":"~g","tickSize":3,"labelPadding":3,"labelFlush":true,"labelOverlap":false,"labelFontSize":10}}}},
{"data":{"name":"bars"},
 "mark":{"type":"line","color":"#20b2aa","strokeWidth":1},
 "encoding":{
   "x":{"field":"t","type":"temporal","scale":{"domain":[{"year":2024,"month":5,"date":7,"hours":4,"minutes":54,"seconds":22,"milliseconds":500},{"year":2024,"month":5,"date":10,"hours":14,"minutes":58,"seconds":7,"milliseconds":500}]},
     "axis":{"orient":"bottom","values":[
       {"year":2024,"month":5,"date":7,"hours":5},{"year":2024,"month":5,"date":7,"hours":9},{"year":2024,"month":5,"date":7,"hours":13},{"year":2024,"month":5,"date":7,"hours":17},{"year":2024,"month":5,"date":7,"hours":21},
       {"year":2024,"month":5,"date":8,"hours":1},{"year":2024,"month":5,"date":8,"hours":5},{"year":2024,"month":5,"date":8,"hours":9},{"year":2024,"month":5,"date":8,"hours":13},{"year":2024,"month":5,"date":8,"hours":17},{"year":2024,"month":5,"date":8,"hours":21},
       {"year":2024,"month":5,"date":9,"hours":1},{"year":2024,"month":5,"date":9,"hours":5},{"year":2024,"month":5,"date":9,"hours":9},{"year":2024,"month":5,"date":9,"hours":13},{"year":2024,"month":5,"date":9,"hours":17},{"year":2024,"month":5,"date":9,"hours":21}],
       "tickCount":40,
       "labelExpr":"datum.index == 0 ? '7 May 2024' : timeFormat(datum.value, '%-d %b %H:%M')",
       "labelAlign":"left","labelBaseline":"top","labelPadding":1,"tickSize":4,"labelOverlap":false,"labelFlush":false,"labelBound":false}},
   "y":{"field":"d","type":"quantitative"}}},
{"data":{"values":[{"s":"DeM(14) 0.7486"}]},
 "mark":{"type":"text","color":"black","align":"left","baseline":"top","dx":5,"dy":4,"fontSize":9.5,"font":"Liberation Sans"},
 "encoding":{
   "x":{"datum":{"year":2024,"month":5,"date":7,"hours":4,"minutes":54,"seconds":22,"milliseconds":500},"type":"temporal"},
   "y":{"datum":1,"type":"quantitative"},
   "text":{"field":"s"}}}
]
}
]
}
